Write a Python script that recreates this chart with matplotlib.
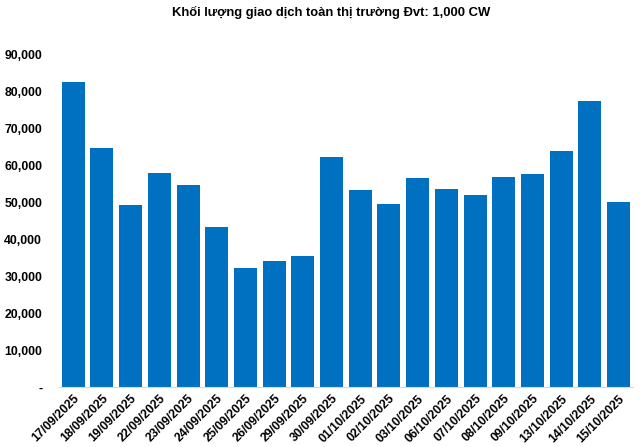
import matplotlib
matplotlib.use('Agg')
import matplotlib.pyplot as plt
from matplotlib.ticker import FuncFormatter

plt.rcParams['font.family'] = ['Liberation Sans', 'DejaVu Sans']

dates = ['17/09/2025', '18/09/2025', '19/09/2025', '22/09/2025', '23/09/2025',
         '24/09/2025', '25/09/2025', '26/09/2025', '29/09/2025', '30/09/2025',
         '01/10/2025', '02/10/2025', '03/10/2025', '06/10/2025', '07/10/2025',
         '08/10/2025', '09/10/2025', '13/10/2025', '14/10/2025', '15/10/2025']
volume = [82600, 64800, 49300, 58000, 54700, 43400, 32200, 34100, 35500, 62300,
          53400, 49600, 56600, 53700, 52000, 56900, 57700, 64000, 77500, 50100]
y_ticks = [0, 10000, 20000, 30000, 40000, 50000, 60000, 70000, 80000, 90000]


def fmt(v, pos):
    if v == 0:
        return '-'
    return '{:,.0f}'.format(v)


fig = plt.figure(figsize=(6.4, 4.47), dpi=100)
ax = fig.add_axes([0.092, 0.134, 0.897, 0.743])

x = range(len(dates))
ax.bar(x, volume, width=0.8, color='#0070C0')

ax.set_xlim(-0.5, len(dates) - 0.5)
ax.set_ylim(0, 90000)
ax.set_yticks(y_ticks)
ax.yaxis.set_major_formatter(FuncFormatter(fmt))
ax.set_xticks(list(x))
ax.set_xticklabels(dates, rotation=45, ha='right', rotation_mode='anchor')

for lbl in ax.get_yticklabels() + ax.get_xticklabels():
    lbl.set_fontweight('bold')
    lbl.set_fontsize(8.8)

ax.tick_params(axis='both', length=0)
ax.tick_params(axis='y', pad=12)
ax.tick_params(axis='x', pad=4)
for s in ['top', 'right', 'left']:
    ax.spines[s].set_visible(False)
ax.spines['bottom'].set_color('#D9D9D9')

fig.text(0.517, 0.972, 'Khối lượng giao dịch toàn thị trường Đvt: 1,000 CW',
         ha='center', va='center', fontsize=9.4, fontweight='bold')

fig.savefig('out.png', dpi=100)
